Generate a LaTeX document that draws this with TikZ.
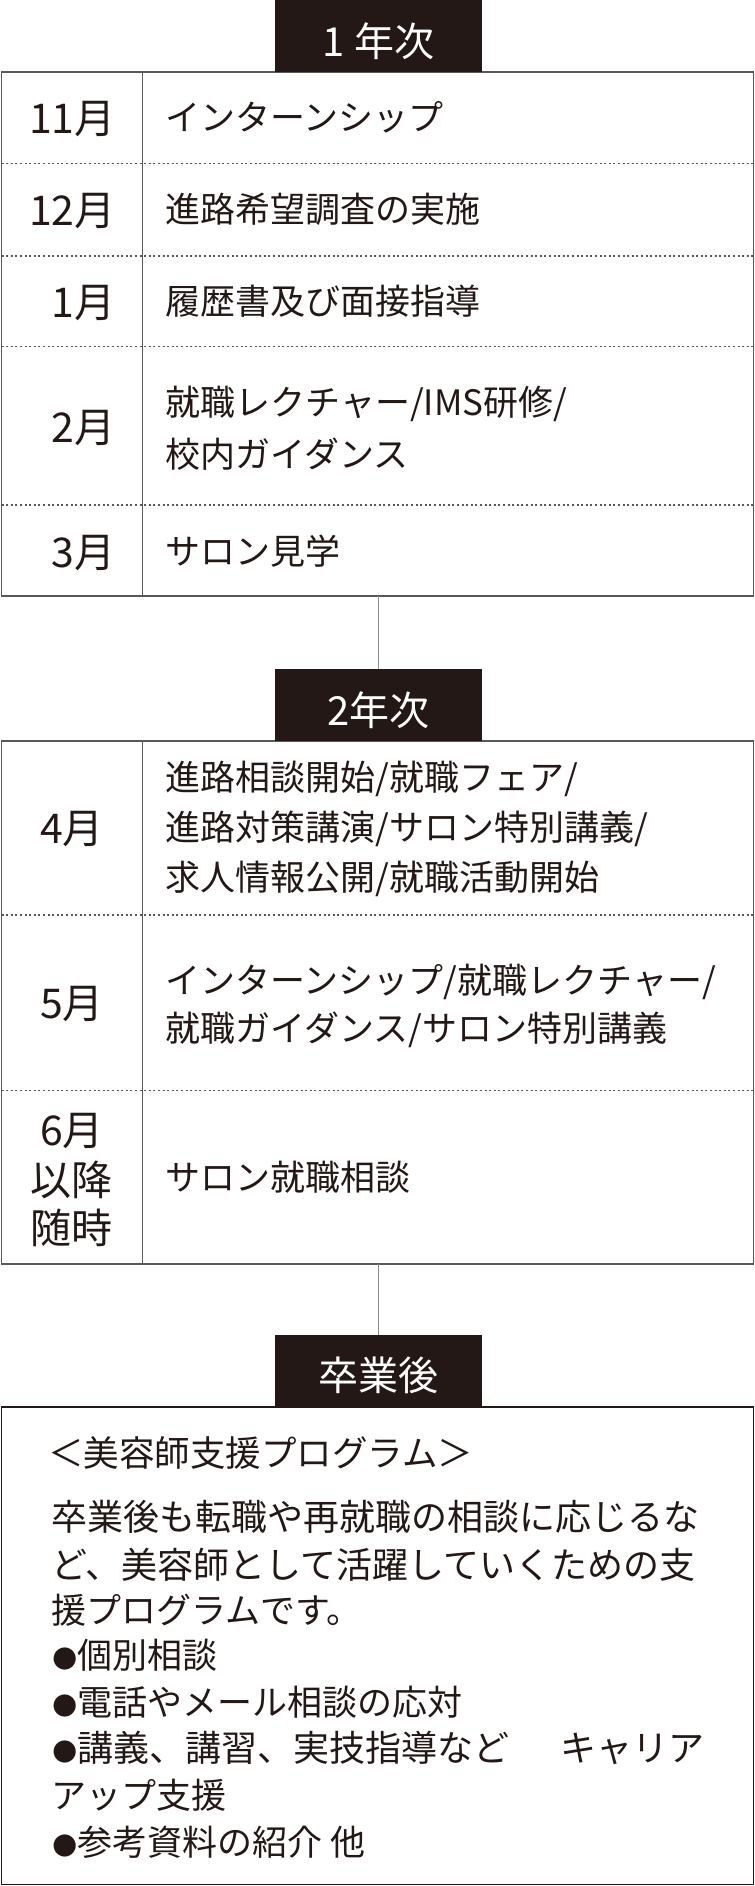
\documentclass[tikz,border=0pt]{standalone}
\usepackage{fontspec}
\setmainfont{Noto Sans CJK JP}
\newfontfamily\dejavu{DejaVu Sans}
\newcommand\bul{\raisebox{1pt}{\dejavu\fontsize{14.5pt}{17pt}\selectfont ●}}
\definecolor{ink}{HTML}{231815}
\definecolor{rulec}{HTML}{595757}
\definecolor{connc}{HTML}{8C8C8C}
\begin{document}
\begin{tikzpicture}[x=0.5pt,y=-0.5pt,
  frame/.style={draw=rulec, line width=0.75pt, inner sep=0, outer sep=0, minimum width=376pt},
  yearbox/.style={fill=ink, draw=none, inner sep=0, outer sep=0, minimum width=103.5pt, minimum height=36pt},
  yeartxt/.style={text=white, font=\fontsize{20pt}{24pt}\selectfont, inner sep=0, anchor=base},
  mon/.style={text=ink, font=\fontsize{20.5pt}{24pt}\selectfont, inner sep=0, anchor=base east},
  monc/.style={mon, anchor=base},
  item/.style={text=ink, font=\fontsize{17.5pt}{21pt}\selectfont, inner sep=0, anchor=base west},
  para/.style={item, font=\fontsize{18pt}{21pt}\selectfont},
  divider/.style={draw=rulec, line width=0.75pt},
  dotrule/.style={draw=rulec, line width=0.75pt, dash pattern=on 1pt off 1.3pt},
  connector/.style={draw=connc, line width=0.75pt}
]
\useasboundingbox (0,0) rectangle (755,1886);

% ---------- year 1 ----------
\node[frame, minimum height=262pt] (t1) at (377.5,334) {};
\draw[divider] ([xshift=70.5pt]t1.north west) -- ([xshift=70.5pt]t1.south west);
\foreach \yy in {163.5,256,346.5,505}
  \draw[dotrule] (t1.west |- 0,\yy) -- (t1.east |- 0,\yy);
\node[yearbox] (h1) at (378.5,36) {};
\node[yeartxt] (h1t) at (378.5,56) {1 年次};

\node[mon] (m11) at (116,133) {11月};
\node[item] (e11) at (165,130) {インターンシップ};
\node[mon] (m12) at (116,225) {12月};
\node[item] (e12) at (165,222) {進路希望調査の実施};
\node[mon] (m1) at (116,317) {1月};
\node[item] (e1) at (165,314) {履歴書及び面接指導};
\node[mon] (m2) at (116,442) {2月};
\node[item] (e2a) at (165,415) {就職レクチャー/IMS研修/};
\node[item] (e2b) at (165,467) {校内ガイダンス};
\node[mon] (m3) at (116,567) {3月};
\node[item] (e3) at (165,564) {サロン見学};

% ---------- year 2 ----------
\node[frame, minimum height=261.5pt] (t2) at (377.5,1002.5) {};
\draw[divider] ([xshift=70.5pt]t2.north west) -- ([xshift=70.5pt]t2.south west);
\foreach \yy in {915,1090.5}
  \draw[dotrule] (t2.west |- 0,\yy) -- (t2.east |- 0,\yy);
\node[yearbox] (h2) at (378.5,705) {};
\node[yeartxt] (h2t) at (378.5,725) {2年次};
\draw[connector] (h2.north) -- (h2.north |- t1.south);

\node[monc] (m4) at (72,843) {4月};
\node[item] (e4a) at (165,790) {進路相談開始/就職フェア/};
\node[item] (e4b) at (165,840) {進路対策講演/サロン特別講義/};
\node[item] (e4c) at (165,890) {求人情報公開/就職活動開始};
\node[monc] (m5) at (72,1018) {5月};
\node[item] (e5a) at (165,993) {インターンシップ/就職レクチャー/};
\node[item] (e5b) at (165,1041) {就職ガイダンス/サロン特別講義};
\node[monc] (m6a) at (72,1145) {6月};
\node[monc] (m6b) at (72,1195) {以降};
\node[monc] (m6c) at (72,1243) {随時};
\node[item] (e6) at (165,1190) {サロン就職相談};

% ---------- after graduation ----------
\node[frame, draw=ink, minimum height=238.75pt] (t3) at (377.5,1645.75) {};
\node[yearbox] (h3) at (378.5,1371) {};
\node[yeartxt] (h3t) at (378.5,1390) {卒業後};
\draw[connector] (h3.north) -- (h3.north |- t2.south);

\node[item, font=\fontsize{17.75pt}{21pt}\selectfont] (p0) at (48,1466) {＜美容師支援プログラム＞};
\node[para] (p1) at (51,1530) {卒業後も転職や再就職の相談に応じるな};
\node[para] (p2) at (51,1578) {ど、美容師として活躍していくための支};
\node[item] (p3) at (51,1623) {援プログラムです。};
\node[item] (p4) at (52,1668) {\bul 個別相談};
\node[item] (p5) at (52,1715) {\bul 電話やメール相談の応対};
\node[para] (p6) at (52,1761) {\makebox[326pt][l]{\bul 講義、講習、実技指導など\hfill キャリア}};
\node[item] (p7) at (51,1808) {アップ支援};
\node[item] (p8) at (52,1855) {\bul 参考資料の紹介 他};
\end{tikzpicture}
\end{document}
